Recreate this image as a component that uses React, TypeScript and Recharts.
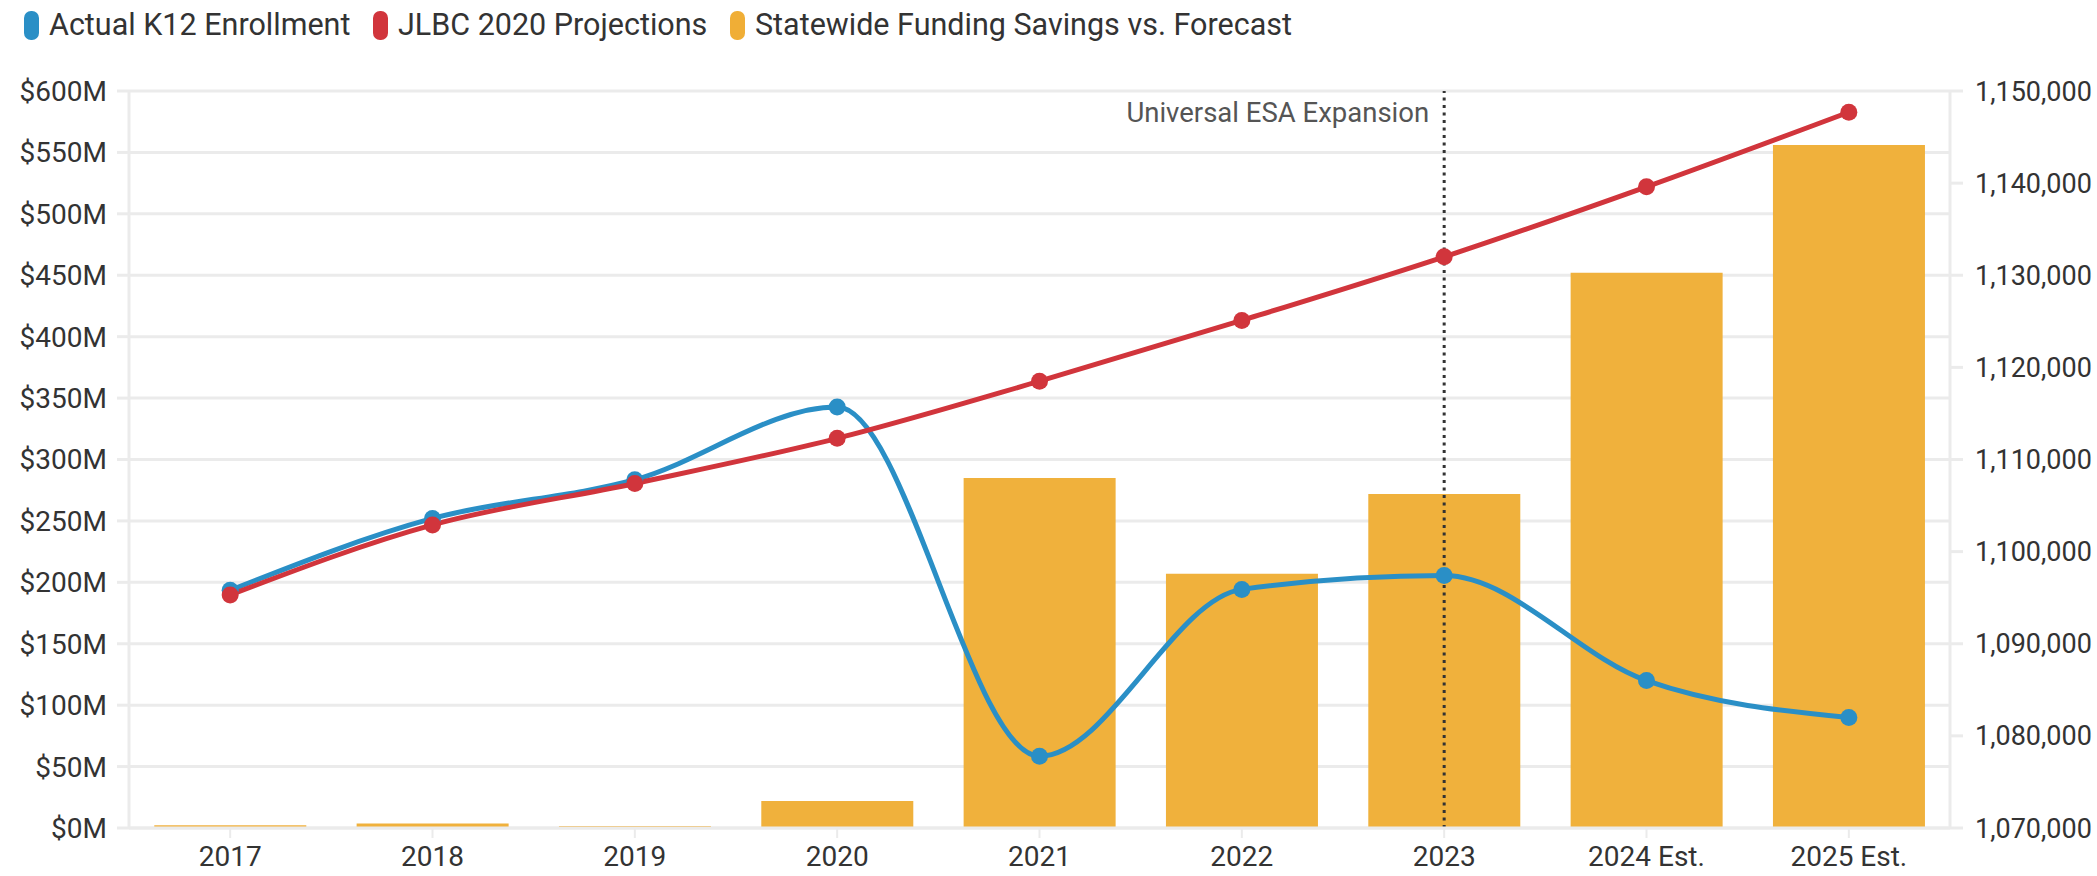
import React from "react";
import {
  ComposedChart,
  Bar,
  Line,
  XAxis,
  YAxis,
  CartesianGrid,
  ReferenceLine,
} from "recharts";

// school years on the x axis
const years = ["2017", "2018", "2019", "2020", "2021", "2022", "2023", "2024 Est.", "2025 Est."];

// statewide funding savings vs forecast, in $M (left axis)
const savingsM = [2.2, 3.6, 1.7, 22, 285, 207, 272, 452, 556];

// enrollment counts (right axis)
const actualEnrollment = [1095800, 1103600, 1107800, 1115700, 1077800, 1095900, 1097400, 1086000, 1082000];
const jlbcProjection = [1095300, 1102900, 1107400, 1112300, 1118500, 1125100, 1132000, 1139600, 1147700];

const leftTicks = [0, 50, 100, 150, 200, 250, 300, 350, 400, 450, 500, 550, 600];
const rightTicks = [1070000, 1080000, 1090000, 1100000, 1110000, 1120000, 1130000, 1140000, 1150000];

const BLUE = "#2a8fc6";
const RED = "#d1353c";
const ORANGE = "#f0ae36";
const GRID = "#ebebeb";
const TEXT = "#333";
const FONT = "Roboto, sans-serif";

const legendItems = [
  { label: "Actual K12 Enrollment", color: BLUE },
  { label: "JLBC 2020 Projections", color: RED },
  { label: "Statewide Funding Savings vs. Forecast", color: ORANGE },
];

const rows = years.map((year, i) => ({
  year,
  savings: savingsM[i],
  actual: actualEnrollment[i],
  jlbc: jlbcProjection[i],
}));

const tickStyle = { fontSize: 28, fill: TEXT, fontFamily: FONT };

function Legend() {
  // left edge of each legend entry, matched to the original layout
  const lefts = [24, 373, 730];
  return (
    <div style={{ position: "absolute", left: 0, top: 10, zIndex: 2, fontFamily: FONT, fontSize: 30.5, color: TEXT }}>
      {legendItems.map((it, i) => (
        <div
          key={it.label}
          style={{ position: "absolute", left: lefts[i], top: 0, display: "flex", alignItems: "center", whiteSpace: "nowrap" }}
        >
          <span
            style={{
              width: 15,
              height: 29,
              borderRadius: 7,
              background: it.color,
              marginRight: 10,
              display: "inline-block",
            }}
          />
          <span style={{ lineHeight: "30px" }}>{it.label}</span>
        </div>
      ))}
    </div>
  );
}

function EsaLabel(props: any) {
  const vb = props.viewBox || {};
  return (
    <text
      x={vb.x - 15}
      y={vb.y + 24}
      textAnchor="end"
      dominantBaseline="middle"
      fontSize={27.5}
      fill="#555"
      fontFamily={FONT}
    >
      Universal ESA Expansion
    </text>
  );
}

export default function App() {
  return (
    <div style={{ position: "absolute", left: 0, top: 0, width: 2097, height: 876, background: "#fff" }}>
      <Legend />
      <ComposedChart
        width={2097}
        height={876}
        data={rows}
        margin={{ top: 91, right: 0, bottom: 0, left: 0 }}
        barCategoryGap="12.5%"
      >
        <CartesianGrid yAxisId="left" vertical={false} stroke={GRID} strokeWidth={3} />
        <XAxis
          dataKey="year"
          interval={0}
          height={48}
          tick={tickStyle}
          tickSize={10}
          tickMargin={8}
          axisLine={{ stroke: GRID, strokeWidth: 3 }}
          tickLine={{ stroke: GRID, strokeWidth: 2 }}
        />
        <YAxis
          yAxisId="left"
          domain={[0, 600]}
          ticks={leftTicks}
          interval={0}
          width={129}
          tick={tickStyle}
          tickSize={12}
          tickMargin={10}
          tickFormatter={(v: number) => `$${v}M`}
          axisLine={{ stroke: GRID, strokeWidth: 3 }}
          tickLine={{ stroke: GRID, strokeWidth: 3 }}
        />
        <YAxis
          yAxisId="right"
          orientation="right"
          domain={[1070000, 1150000]}
          ticks={rightTicks}
          interval={0}
          allowDataOverflow
          width={147}
          tick={{ ...tickStyle, fontSize: 27 }}
          tickSize={13}
          tickMargin={12}
          tickFormatter={(v: number) => v.toLocaleString("en-US")}
          axisLine={{ stroke: GRID, strokeWidth: 3 }}
          tickLine={{ stroke: GRID, strokeWidth: 3 }}
        />
        <Bar yAxisId="left" dataKey="savings" fill={ORANGE} fillOpacity={0.97} isAnimationActive={false} />
        <ReferenceLine
          yAxisId="left"
          x="2023"
          stroke="#333"
          strokeWidth={3}
          strokeDasharray="3 4.5"
          label={<EsaLabel />}
        />
        <Line
          yAxisId="right"
          type="monotone"
          dataKey="actual"
          stroke={BLUE}
          strokeWidth={5}
          dot={{ r: 8.5, fill: BLUE, stroke: BLUE, strokeWidth: 0 }}
          activeDot={false}
          isAnimationActive={false}
        />
        <Line
          yAxisId="right"
          type="monotone"
          dataKey="jlbc"
          stroke={RED}
          strokeWidth={5}
          dot={{ r: 8.5, fill: RED, stroke: RED, strokeWidth: 0 }}
          activeDot={false}
          isAnimationActive={false}
        />
      </ComposedChart>
    </div>
  );
}
